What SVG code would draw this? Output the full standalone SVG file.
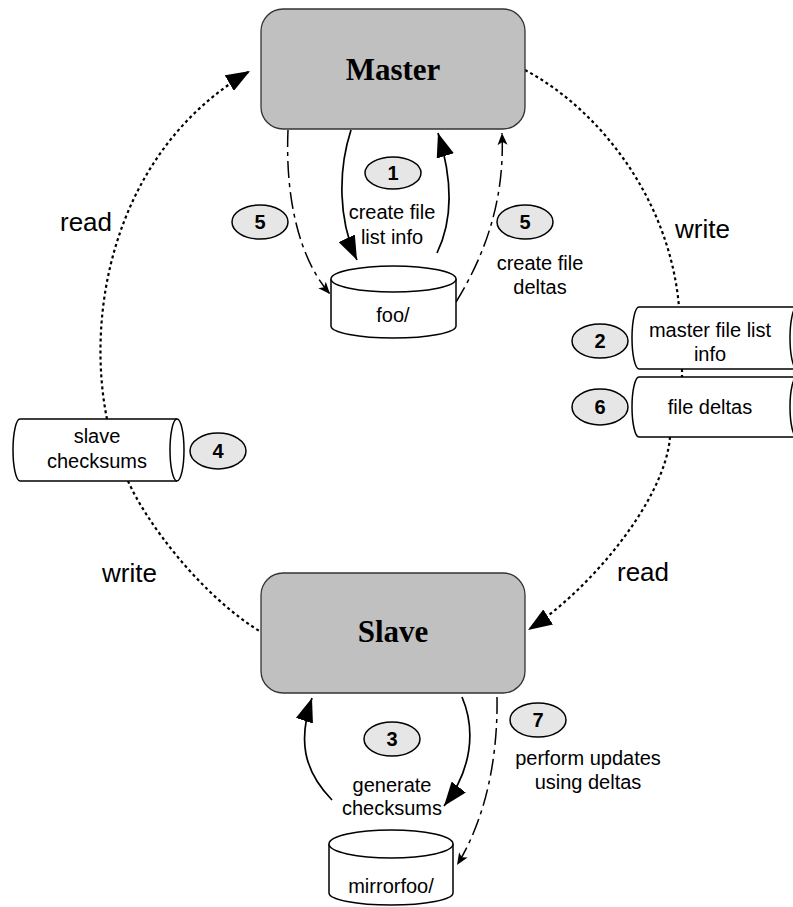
<svg xmlns="http://www.w3.org/2000/svg" width="793" height="907" viewBox="0 0 793 907">
<style>
.box{fill:#c0c0c0;stroke:#333;stroke-width:1.3}
.title{font-family:"Liberation Serif",serif;font-weight:bold;font-size:31px;text-anchor:middle;fill:#000}
.cyl{fill:#fff;stroke:#000;stroke-width:1.5}
.oval{fill:#e6e6e6;stroke:#000;stroke-width:1.5}
.num{font-family:"Liberation Sans",Arial,sans-serif;font-weight:bold;font-size:20px;text-anchor:middle;fill:#000}
.lbl{font-family:"Liberation Sans",Arial,sans-serif;font-size:20px;text-anchor:middle;fill:#000}
.big{font-family:"Liberation Sans",Arial,sans-serif;font-size:26px;fill:#000}
.dot{fill:none;stroke:#000;stroke-width:2.2;stroke-dasharray:3 3}
.solid{fill:none;stroke:#000;stroke-width:1.7}
.dash{fill:none;stroke:#000;stroke-width:1.5;stroke-dasharray:17 5 4 5}
</style>
<defs>
<marker id="bigArrow" markerUnits="userSpaceOnUse" markerWidth="26" markerHeight="18" refX="24" refY="9" orient="auto" viewBox="0 0 26 18">
<path d="M0,0 L24,9 L0,18 z" fill="#000" stroke="none"/>
</marker>
<marker id="smallArrow" markerUnits="userSpaceOnUse" markerWidth="14" markerHeight="10" refX="12" refY="5" orient="auto" viewBox="0 0 14 10">
<path d="M0,0 L12,5 L0,10 L3,5 z" fill="#000" stroke="none"/>
</marker>
</defs>

<g id="connectors">
<path class="dot" d="M107,419 C85,310 115,150 250,71" marker-end="url(#bigArrow)"/>
<path class="dot" d="M525,70 C600,110 670,200 679,307"/>
<path class="dot" d="M682,369 L682,377"/>
<path class="dot" d="M670,437 C665,500 590,590 528,630" marker-end="url(#bigArrow)"/>
<path class="dot" d="M128,481 C145,520 200,595 261,632"/>
<path class="solid" d="M351,130 C338,170 338,220 357,260" marker-end="url(#bigArrow)"/>
<path class="solid" d="M437,253 C453,220 453,180 438,133" marker-end="url(#bigArrow)"/>
<path class="dash" d="M288,130 C285,200 300,260 330,294" marker-end="url(#smallArrow)"/>
<path class="dash" d="M456,302 C485,255 505,200 502,133" marker-end="url(#smallArrow)"/>
<path class="solid" d="M332,800 C303,770 298,740 312,698" marker-end="url(#bigArrow)"/>
<path class="solid" d="M462,697 C476,730 472,770 444,806" marker-end="url(#bigArrow)"/>
<path class="dash" d="M497,697 C498,760 485,820 457,865" marker-end="url(#smallArrow)"/>
</g>

<g id="master">
<rect class="box" x="261" y="9" width="264" height="120" rx="22" ry="22"/>
<text class="title" x="393" y="80">Master</text>
</g>

<g id="slave">
<rect class="box" x="261" y="573" width="264" height="120" rx="22" ry="22"/>
<text class="title" x="393" y="642">Slave</text>
</g>

<g id="foo">
<path class="cyl" d="M331,279 L331,326 A62.5,12 0 0 0 456,326 L456,279"/>
<ellipse class="cyl" cx="393.5" cy="279" rx="62.5" ry="13"/>
<text class="lbl" x="393" y="322">foo/</text>
</g>

<g id="mirrorfoo">
<path class="cyl" d="M329,844 L329,893 A62,12 0 0 0 453,893 L453,844"/>
<ellipse class="cyl" cx="391" cy="844" rx="62" ry="14"/>
<text class="lbl" x="391" y="893">mirrorfoo/</text>
</g>

<g id="slave-checksums">
<path class="cyl" d="M177,419 L20,419 A7,31 0 0 0 20,481 L177,481"/>
<ellipse class="cyl" cx="177" cy="450" rx="7" ry="31"/>
<text class="lbl" x="97" y="443">slave</text>
<text class="lbl" x="97" y="468">checksums</text>
</g>

<g id="master-file-list-info">
<path class="cyl" d="M797,307 L639,307 A7,31 0 0 0 639,369 L797,369"/>
<ellipse class="cyl" cx="797" cy="338" rx="7" ry="31"/>
<text class="lbl" x="710" y="337">master file list</text>
<text class="lbl" x="710" y="361">info</text>
</g>

<g id="file-deltas">
<path class="cyl" d="M797,377 L639,377 A7,30 0 0 0 639,437 L797,437"/>
<ellipse class="cyl" cx="797" cy="407" rx="7" ry="30"/>
<text class="lbl" x="710" y="414">file deltas</text>
</g>

<g id="step1">
<ellipse class="oval" cx="393" cy="173" rx="28" ry="16"/>
<text class="num" x="393" y="180">1</text>
</g>
<g id="step5a">
<ellipse class="oval" cx="260" cy="222" rx="28" ry="17"/>
<text class="num" x="260" y="229">5</text>
</g>
<g id="step5b">
<ellipse class="oval" cx="525" cy="222" rx="28" ry="17"/>
<text class="num" x="525" y="229">5</text>
</g>
<g id="step2">
<ellipse class="oval" cx="600" cy="341" rx="28" ry="17"/>
<text class="num" x="600" y="348">2</text>
</g>
<g id="step6">
<ellipse class="oval" cx="600" cy="407" rx="28" ry="18"/>
<text class="num" x="600" y="414">6</text>
</g>
<g id="step4">
<ellipse class="oval" cx="218" cy="451" rx="28" ry="18"/>
<text class="num" x="218" y="458">4</text>
</g>
<g id="step3">
<ellipse class="oval" cx="392" cy="739" rx="28" ry="17"/>
<text class="num" x="392" y="746">3</text>
</g>
<g id="step7">
<ellipse class="oval" cx="538" cy="720" rx="28" ry="17"/>
<text class="num" x="538" y="727">7</text>
</g>

<g id="labels">
<text class="lbl" x="392" y="219">create file</text>
<text class="lbl" x="392" y="244">list info</text>
<text class="lbl" x="540" y="270">create file</text>
<text class="lbl" x="540" y="294">deltas</text>
<text class="lbl" x="392" y="792">generate</text>
<text class="lbl" x="392" y="815">checksums</text>
<text class="lbl" x="588" y="765">perform updates</text>
<text class="lbl" x="588" y="789">using deltas</text>
<text class="big" x="60" y="231">read</text>
<text class="big" x="675" y="238">write</text>
<text class="big" x="102" y="582">write</text>
<text class="big" x="617" y="581">read</text>
</g>
</svg>
